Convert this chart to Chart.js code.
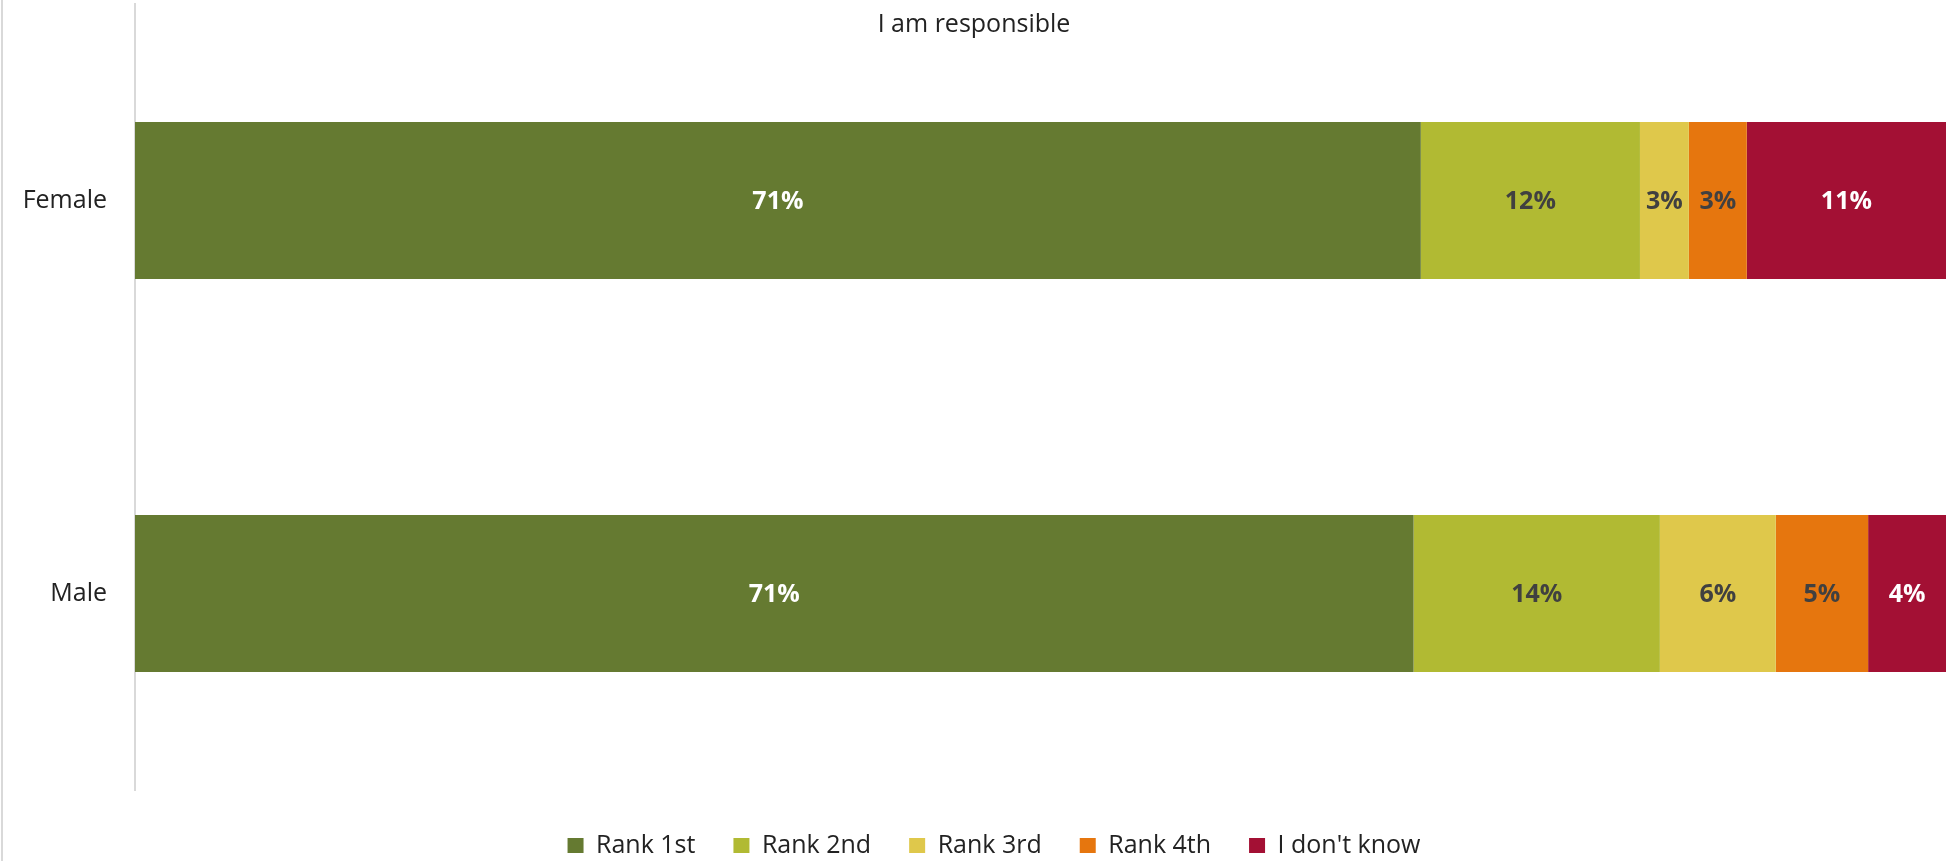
<!DOCTYPE html>
<html><head><meta charset="utf-8"><title>I am responsible</title>
<script src="https://cdn.jsdelivr.net/npm/chart.js@4.4.1/dist/chart.umd.min.js"></script>
<style>
html,body{margin:0;padding:0;background:#fff;overflow:hidden}
#wrap{position:relative;width:1949px;height:868px}
#wrap:before{content:'';position:absolute;left:1px;top:0;bottom:0;width:2px;background:#d9d9d9}
#cv{display:block}
</style></head><body>
<div id="wrap"><canvas id="cv" width="1949" height="868"></canvas></div>
<script>
const TITLE='I am responsible';
const groups=['Female','Male'];
const series=['Rank 1st','Rank 2nd','Rank 3rd','Rank 4th',"I don't know"];
// shares in % (labels are these values rounded)
const rank1=[71.0,70.6];
const rank2=[12.1,13.6];
const rank3=[2.7,6.4];
const rank4=[3.2,5.1];
const dunno=[11.0,4.3];

const colors=['#657A31','#B1BA33','#DFC84B','#E6760E','#A31034'];
const txtColors=['#fff','#404040','#404040','#404040','#fff'];
const FONT='"Open Sans", "Liberation Sans", sans-serif';

const values=[rank1,rank2,rank3,rank4,dunno];

// % labels inside the segments
const barLabels={id:'barLabels',afterDatasetsDraw:function(chart){
  const ctx=chart.ctx;ctx.save();
  ctx.font='bold 25px '+FONT;ctx.textAlign='center';ctx.textBaseline='middle';
  chart.data.datasets.forEach(function(ds,i){
    chart.getDatasetMeta(i).data.forEach(function(bar,j){
      ctx.fillStyle=txtColors[i];
      ctx.fillText(Math.round(ds.data[j])+'%',(bar.x+bar.base)/2,bar.y+1);
    });
  });
  ctx.restore();
}};
// title sits over the plot, not above it
const topTitle={id:'topTitle',afterDraw:function(chart){
  const ctx=chart.ctx;ctx.save();
  ctx.font='25px '+FONT;ctx.fillStyle='#222';ctx.textAlign='center';ctx.textBaseline='middle';
  ctx.fillText(TITLE,974,25);
  ctx.restore();
}};
// legend in the original is a bit right of centre
const legendShift={id:'legendShift',afterLayout:function(chart){
  if(chart.legend){chart.legend.left+=21;chart.legend.right+=21;}
}};

function draw(){
  new Chart(document.getElementById('cv'),{
    type:'bar',
    data:{
      labels:groups,
      datasets:series.map(function(s,i){
        return{label:s,data:values[i],backgroundColor:colors[i],borderWidth:0,
          barPercentage:0.5,categoryPercentage:0.8};
      })
    },
    options:{
      indexAxis:'y',responsive:false,animation:false,
      layout:{padding:{top:4,right:3,left:0,bottom:0}},
      plugins:{
        legend:{position:'bottom',labels:{font:{size:25,family:FONT},color:'#222',boxWidth:16,boxHeight:15,padding:38}},
        tooltip:{enabled:false}
      },
      scales:{
        x:{stacked:true,min:0,max:100,ticks:{display:false},grid:{display:false},border:{display:false},
          afterFit:function(s){s.height=5;}},
        y:{stacked:true,grid:{display:false,drawTicks:false},border:{display:true,color:'#d9d9d9',width:2},
          ticks:{font:{size:25,family:FONT},color:'#222',padding:28},
          afterFit:function(s){s.width=135;s.paddingTop=0;s.paddingBottom=0;}}
      }
    },
    plugins:[barLabels,topTitle,legendShift]
  });
}
if(document.fonts&&document.fonts.load){
  document.fonts.load('25px "Open Sans"').then(draw,draw);
}else draw();
</script>
</body></html>
